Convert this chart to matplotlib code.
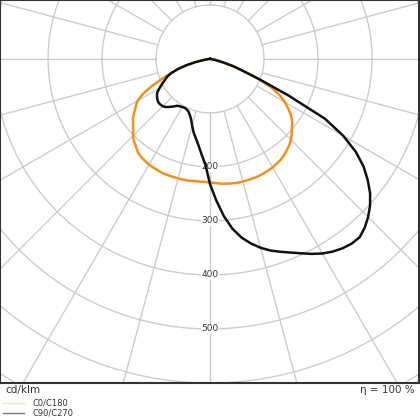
import numpy as np
import matplotlib.pyplot as plt
from matplotlib.lines import Line2D

# Gamma angle (deg), 0 = straight down, negative = left half
gamma = np.arange(-90, 90.1, 2.5)

# C0/C180 plane (cd/klm)
c0_c180 = [0, 0, 0, 4, 12, 28, 45, 62, 76, 96, 118, 140, 155, 163, 171, 180, 186,
           193, 202, 208, 213, 219, 222, 224, 226, 227, 228, 229, 229, 229, 229,
           229, 229, 228, 228, 228, 229, 230, 232, 233, 234, 235, 235, 235, 235,
           235, 234, 233, 232, 230, 228, 225, 221, 217, 212, 205, 198, 192, 183,
           172, 160, 145, 125, 98, 65, 45, 25, 12, 5, 0, 0, 0, 0]

# C90/C270 plane (cd/klm)
c90_c270 = [0, 0, 0, 4, 12, 28, 45, 62, 76, 86, 92, 100, 108, 116, 120, 123, 125,
            125, 124, 121, 116, 111, 106, 104, 103, 102, 103, 105, 110, 117, 128,
            140, 150, 162, 178, 196, 232, 262, 292, 317, 336, 350, 362, 372, 380,
            388, 397, 407, 416, 423, 428, 431, 431, 424, 414, 402, 387, 368, 347,
            320, 285, 240, 160, 100, 65, 45, 25, 12, 5, 0, 0, 0, 0]

ring_values = [100, 200, 300, 400, 500, 600, 700]
ring_labels = [200, 300, 400, 500]
spoke_angles = np.arange(0, 360, 15)

fig = plt.figure(figsize=(4.2, 4.2), dpi=100)
ax = fig.add_axes([0, 37 / 420, 419 / 420, 383 / 420])

# grid: circles and spokes
t = np.linspace(0, 2 * np.pi, 400)
for r in ring_values:
    ax.plot(r * np.sin(t), r * np.cos(t), color='#cccccc', lw=1.0, zorder=1)
for a in np.radians(spoke_angles):
    ax.plot([100 * np.sin(a), 900 * np.sin(a)], [-100 * np.cos(a), -900 * np.cos(a)],
            color='#cccccc', lw=1.0, zorder=1)

for r in ring_labels:
    ax.text(0, -r, str(r), ha='center', va='center', fontsize=6.5, color='#333333',
            zorder=2, bbox=dict(facecolor='white', edgecolor='none', pad=0.3))

# curves
g = np.radians(gamma)
ax.plot(np.array(c0_c180) * np.sin(g), -np.array(c0_c180) * np.cos(g),
        color='#f0901e', lw=1.8, zorder=3)
ax.plot(np.array(c90_c270) * np.sin(g), -np.array(c90_c270) * np.cos(g),
        color='#111111', lw=1.8, zorder=4)

ax.set_xlim(-389, 387)
ax.set_ylim(-600, 109)
ax.set_xticks([])
ax.set_yticks([])
for s in ax.spines.values():
    s.set_color('#333333')
    s.set_linewidth(1.5)

fig.text(0.012, 1 - 390 / 420, 'cd/klm', ha='left', va='center', fontsize=7.5, color='#333333')
fig.text(0.988, 1 - 390 / 420, 'η = 100 %', ha='right', va='center', fontsize=7.5, color='#333333')

handles = [Line2D([], [], color='#eee3cf', lw=1.0), Line2D([], [], color='#777777', lw=1.0)]
fig.legend(handles, ['C0/C180', 'C90/C270'], loc='upper left', bbox_to_anchor=(0.008, 0.05),
           frameon=False, fontsize=6, handlelength=2.5, handletextpad=1.0,
           labelspacing=0.05, borderpad=0, borderaxespad=0, labelcolor='#333333')

fig.savefig('out.png', dpi=100)
